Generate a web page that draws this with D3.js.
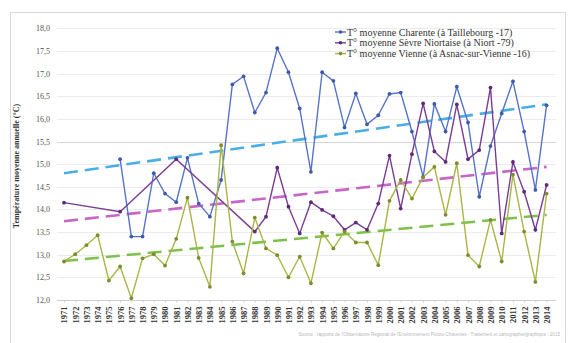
<!DOCTYPE html>
<html><head><meta charset="utf-8">
<script src="https://cdn.jsdelivr.net/npm/d3@7"></script>
<style>body{margin:0;background:#fff}svg{display:block}</style>
</head><body>
<svg id="c" width="575" height="343"></svg>
<script>
const years = d3.range(1971, 2015);
const charente = [null,null,null,null,null,15.11,13.40,13.40,14.80,14.35,14.16,15.14,14.13,13.84,14.65,16.76,16.94,16.14,16.58,17.56,17.03,16.23,14.83,17.03,16.84,15.81,16.56,15.88,16.08,16.55,16.58,15.72,14.72,16.33,15.72,16.71,15.92,14.28,15.40,16.12,16.83,15.72,14.43,16.30];
const sevre = [14.15,null,null,null,null,13.95,null,null,null,null,15.11,null,null,null,null,null,null,13.51,13.84,14.92,14.06,13.47,14.16,13.99,13.85,13.55,13.71,13.55,14.13,15.19,14.02,15.22,16.34,15.28,15.05,16.32,15.11,15.31,16.69,13.47,15.05,14.39,13.55,14.54];
const vienne = [12.85,13.01,13.21,13.43,12.43,12.74,12.04,12.92,13.01,12.76,13.35,14.26,12.93,12.29,15.42,13.29,12.59,13.82,13.14,12.99,12.50,12.96,12.37,13.49,13.14,13.51,13.27,13.27,12.77,14.19,14.65,14.24,14.71,14.94,13.88,15.02,12.99,12.74,13.77,12.85,14.77,13.51,12.40,14.35];
const trendYears = [1971, 2014];
const trendCharente = [14.80, 16.32];
const trendSevre = [13.74, 14.94];
const trendVienne = [12.86, 13.88];
const yTicks = [12,12.5,13,13.5,14,14.5,15,15.5,16,16.5,17,17.5,18];
const seriesNames = ["T° moyenne Charente (à Taillebourg -17)","T° moyenne Sèvre Niortaise (à Niort -79)","T° moyenne Vienne (à Asnac-sur-Vienne -16)"];
const yTitle = "Température moyenne annuelle (°C)";
const sourceText = "Source : rapports de l'Observatoire Régional de l'Environnement Poitou-Charentes - Traitement et cartographie/graphique : 2015";

const svg = d3.select("#c");
const serif = "'Liberation Serif','DejaVu Serif',serif";
svg.append("rect").attr("x",10.5).attr("y",12.5).attr("width",555).attr("height",340).attr("fill","#fff").attr("stroke","#d8d8d8");

const x = d3.scalePoint().domain(years).range([64, 546.6]);
const y = d3.scaleLinear().domain([12,18]).range([300, 28.3]);

// grid
svg.append("g").selectAll("line").data(yTicks.slice(1)).join("line")
  .attr("x1",57).attr("x2",556).attr("y1",d=>Math.round(y(d))+0.5).attr("y2",d=>Math.round(y(d))+0.5)
  .attr("stroke",d=>d===15.5?"#d6d6d6":"#ececec").attr("stroke-width",1);

// y axis labels
const ya = svg.append("g").attr("transform","translate(50,0)")
  .call(d3.axisLeft(y).tickValues(yTicks).tickSize(0).tickPadding(0).tickFormat(d=>d3.format(".1f")(d).replace(".",",")));
ya.select(".domain").remove();
ya.selectAll("text").attr("font-family",serif).attr("font-size",8).attr("fill","#555");

// x axis
const xa = svg.append("g").attr("transform","translate(0,300.5)")
  .call(d3.axisBottom(x).tickSize(2).tickPadding(6));
xa.select(".domain").attr("stroke","#cfcfcf").attr("d","M57,0H556");
xa.selectAll(".tick line").attr("stroke","#cfcfcf");
xa.selectAll("text").attr("font-family",serif).attr("font-size",8.5).attr("font-weight","bold").attr("fill","#333")
  .attr("transform","rotate(-90)").attr("text-anchor","end").attr("x",-6).attr("y",0).attr("dy","0.35em");

// y title
svg.append("text").attr("transform","translate(19,166) rotate(-90)").attr("text-anchor","middle")
  .attr("font-family",serif).attr("font-size",8).attr("font-weight","bold").attr("fill","#333").text(yTitle);

// trend lines
const trends = [[trendCharente,"#4aaee6"],[trendSevre,"#c865c8"],[trendVienne,"#7cc24a"]];
const line = d3.line().x(d=>x(d[0])).y(d=>y(d[1]));
trends.forEach(([t,c])=>{
  svg.append("path").attr("d",line(trendYears.map((yr,i)=>[yr,t[i]])))
    .attr("fill","none").attr("stroke",c).attr("stroke-width",2.6).attr("stroke-dasharray","14,7");
});

// series
const series = [[charente,"#5674c8","#3f5aa8"],[sevre,"#7a3c94","#5e2a76"],[vienne,"#a9b546","#7f8c2e"]];
series.forEach(([vals,c,mc])=>{
  const pts = years.map((yr,i)=>[yr,vals[i]]).filter(d=>d[1]!=null);
  svg.append("path").attr("d",line(pts)).attr("fill","none").attr("stroke",c).attr("stroke-width",1.4);
  svg.append("g").selectAll("circle").data(pts).join("circle")
    .attr("cx",d=>x(d[0])).attr("cy",d=>y(d[1])).attr("r",1.9).attr("fill",mc);
});

// legend
const lg = svg.append("g").attr("transform","translate(335,32)");
series.forEach(([vals,c,mc],i)=>{
  const g = lg.append("g").attr("transform",`translate(0,${i*10.8})`);
  g.append("line").attr("x1",0).attr("x2",11).attr("stroke",c).attr("stroke-width",1.4);
  g.append("circle").attr("cx",5.5).attr("r",1.8).attr("fill",mc);
  g.append("text").attr("x",12).attr("dy","0.35em").attr("font-family",serif).attr("font-size",10).attr("fill","#333").text(seriesNames[i]);
});

// source
svg.append("text").attr("x",560).attr("y",336).attr("text-anchor","end").attr("font-family","'Liberation Sans',sans-serif")
  .attr("font-size",4.6).attr("fill","#b8b8b8").text(sourceText);
</script>
</body></html>
